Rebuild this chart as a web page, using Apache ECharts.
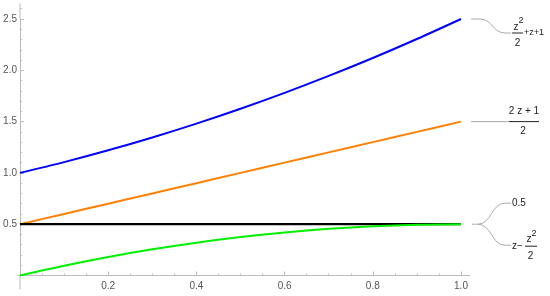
<!DOCTYPE html>
<html lang="en">
<head>
    <meta charset="UTF-8">
    <title>Plot</title>
    <script src="https://cdn.jsdelivr.net/npm/echarts/dist/echarts.min.js"></script>
    <style>
        html, body { margin: 0; padding: 0; background: #fff; }
        #main { width: 550px; height: 296px; }
    </style>
</head>
<body>
<div id="main"></div>
<script>
    // values
    var zValues = [0, 0.1, 0.2, 0.3, 0.4, 0.5, 0.6, 0.7, 0.8, 0.9, 1.0];
    var blueValues = [1.00, 1.105, 1.22, 1.345, 1.48, 1.625, 1.78, 1.945, 2.12, 2.305, 2.50];
    var orangeValues = [0.5, 0.6, 0.7, 0.8, 0.9, 1.0, 1.1, 1.2, 1.3, 1.4, 1.5];
    var blackValues = [0.5, 0.5, 0.5, 0.5, 0.5, 0.5, 0.5, 0.5, 0.5, 0.5, 0.5];
    var greenValues = [0, 0.095, 0.18, 0.255, 0.32, 0.375, 0.42, 0.455, 0.48, 0.495, 0.5];

    var axisGray = '#bbbbbb';
    var labelGray = '#555555';
    var font = 'Liberation Sans, Arial, sans-serif';

    function pairs(vals) {
        var out = [];
        for (var i = 0; i < zValues.length; i++) {
            out.push([zValues[i], vals[i]]);
        }
        return out;
    }

    function tickLabel(v) {
        return v === 0 ? '' : v.toFixed(1);
    }

    function mkSeries(name, vals, color, width) {
        return {
            name: name,
            type: 'line',
            data: pairs(vals),
            smooth: 0.3,
            showSymbol: false,
            lineStyle: { color: color, width: width || 2 },
            itemStyle: { color: color }
        };
    }

    var myChart = echarts.init(document.getElementById('main'));

    var option = {
        animation: false,
        grid: { left: 20, right: 89, top: 19, bottom: 20.5 },
        xAxis: {
            type: 'value',
            min: 0,
            max: 1,
            interval: 0.2,
            splitLine: { show: false },
            axisLine: { show: true, lineStyle: { color: axisGray, width: 1 } },
            axisTick: { show: true, inside: true, length: 4, lineStyle: { color: axisGray } },
            minorTick: { show: true, splitNumber: 4, length: 2, lineStyle: { color: axisGray } },
            axisLabel: { formatter: tickLabel, color: labelGray, fontSize: 10, fontFamily: font, margin: 6 }
        },
        yAxis: {
            type: 'value',
            min: 0,
            max: 2.5,
            interval: 0.5,
            splitLine: { show: false },
            axisLine: { show: true, lineStyle: { color: axisGray, width: 1 } },
            axisTick: { show: true, inside: true, length: 4, lineStyle: { color: axisGray } },
            minorTick: { show: true, splitNumber: 5, length: 2, lineStyle: { color: axisGray } },
            axisLabel: { formatter: tickLabel, color: labelGray, fontSize: 10, fontFamily: font, margin: 3 }
        },
        series: [
            mkSeries('blue', blueValues, '#0000ff'),
            mkSeries('orange', orangeValues, '#ff8000'),
            mkSeries('black', blackValues, '#000000', 2.2),
            mkSeries('green', greenValues, '#00f000')
        ]
    };

    myChart.setOption(option);

    // callouts and axis extensions, placed from the axis scales
    function px(pt) {
        return myChart.convertToPixel({ gridIndex: 0 }, pt);
    }

    var calloutGray = '#aaaaaa';
    var g = [];

    function line(x1, y1, x2, y2, color) {
        g.push({ type: 'line', silent: true, shape: { x1: x1, y1: y1, x2: x2, y2: y2 },
            style: { stroke: color, lineWidth: 1 } });
    }
    function curve(x1, y1, x2, y2) {
        var mx = (x1 + x2) / 2;
        g.push({ type: 'bezierCurve', silent: true,
            shape: { x1: x1, y1: y1, x2: x2, y2: y2, cpx1: mx, cpy1: y1, cpx2: mx, cpy2: y2 },
            style: { stroke: calloutGray, lineWidth: 1, fill: null } });
    }
    function text(str, x, y, align, size) {
        g.push({ type: 'text', silent: true, x: x, y: y,
            style: { text: str, fill: '#222', fontSize: size || 10, fontFamily: font,
                align: align || 'center', verticalAlign: 'middle' } });
    }

    // axis extensions (Mathematica style crossing axes)
    var o = px([0, 0]);
    var xe = px([1, 0]);
    var yt = px([0, 2.65]);
    var y26 = px([0, 2.6]);
    line(o[0] - 3, o[1], o[0], o[1], axisGray);
    line(xe[0], o[1], xe[0] + 9, o[1], axisGray);
    line(o[0], yt[1], o[0], px([0, 2.5])[1], axisGray);
    line(o[0], o[1], o[0], o[1] + 14, axisGray);
    line(o[0], y26[1], o[0] + 2, y26[1], axisGray);

    // blue: z^2/2 + z + 1
    var A = px([1, blueValues[blueValues.length - 1]]);
    line(A[0] + 10, A[1], A[0] + 19, A[1], calloutGray);
    curve(A[0] + 19, A[1], A[0] + 44, A[1] + 14);
    line(A[0] + 44, A[1] + 14, A[0] + 50, A[1] + 14, calloutGray);
    line(A[0] + 51, A[1] + 14, A[0] + 62, A[1] + 14, '#222');
    text('z', A[0] + 55, A[1] + 8);
    text('2', A[0] + 60, A[1] + 2, 'center', 9);
    text('2', A[0] + 56.5, A[1] + 24);
    text('+z+1', A[0] + 63, A[1] + 14, 'left', 9);

    // orange: (2 z + 1)/2
    var B = px([1, orangeValues[orangeValues.length - 1]]);
    line(B[0] + 10, B[1], B[0] + 48, B[1], calloutGray);
    line(B[0] + 48, B[1], B[0] + 78, B[1], '#222');
    text('2 z + 1', B[0] + 63, B[1] - 10);
    text('2', B[0] + 62, B[1] + 10);

    // black 0.5 and green z - z^2/2 share an end point
    var C = px([1, greenValues[greenValues.length - 1]]);
    line(C[0] + 11, C[1], C[0] + 17, C[1], calloutGray);
    curve(C[0] + 17, C[1], C[0] + 44, C[1] - 21);
    line(C[0] + 44, C[1] - 21, C[0] + 50, C[1] - 21, calloutGray);
    text('0.5', C[0] + 51, C[1] - 21, 'left');
    curve(C[0] + 17, C[1], C[0] + 44, C[1] + 21);
    line(C[0] + 44, C[1] + 21, C[0] + 50, C[1] + 21, calloutGray);
    text('z\u2212', C[0] + 51, C[1] + 22, 'left');
    line(C[0] + 64, C[1] + 22, C[0] + 76, C[1] + 22, '#222');
    text('z', C[0] + 68, C[1] + 15);
    text('2', C[0] + 73, C[1] + 9, 'center', 9);
    text('2', C[0] + 69.5, C[1] + 32);

    myChart.setOption({ graphic: g });
</script>
</body>
</html>
